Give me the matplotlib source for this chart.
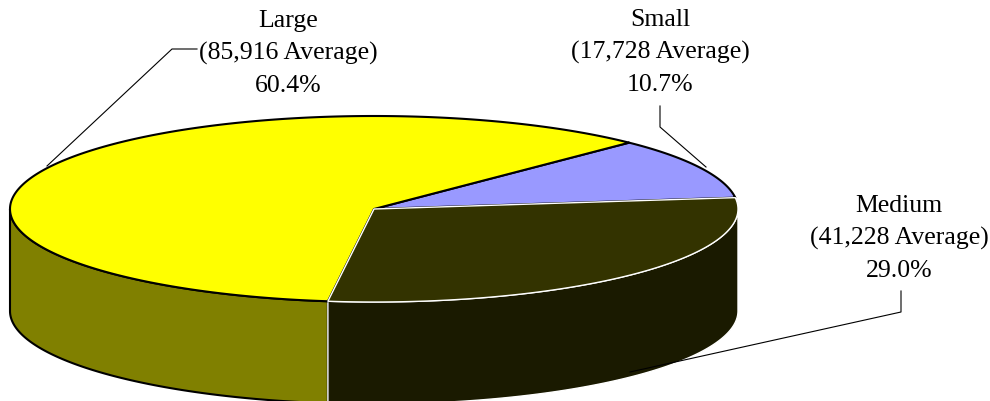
import matplotlib
matplotlib.use("Agg")
import matplotlib.pyplot as plt
from matplotlib.patches import Polygon
import numpy as np

# data (clockwise order starting at the Large/Small boundary)
categories = ['Small', 'Medium', 'Large']
averages = ['17,728', '41,228', '85,916']
percents = [10.7, 29.0, 60.4]

top_colors = ['#9999FF', '#333300', '#FFFF00']
side_colors = ['#7A7ACC', '#1A1A00', '#808000']
edge_colors = ['black', 'white', 'black']
edge_widths = [1.5, 1.0, 1.5]

# pie geometry in pixels
cx, cy = 374, 210
rx, ry = 364, 93
depth = 102
start = 45.5

fig = plt.figure(figsize=(9.9, 4.02), dpi=100)
ax = fig.add_axes([0, 0, 1, 1])
ax.set_xlim(0, 990)
ax.set_ylim(402, 0)
ax.axis('off')


def rim(t, dz=0):
    r = np.radians(t)
    return np.column_stack([cx + rx * np.cos(r), cy - ry * np.sin(r) + dz])


# slice angle ranges, going clockwise
total = sum(percents)
spans = []
a0 = start
for p in percents:
    a1 = a0 - 360 * p / total
    spans.append((a0, a1))
    a0 = a1

# sides first: only the front half (-180..0) is visible
side_order = [2, 1, 0]
for i in side_order:
    a0, a1 = spans[i]
    hi = min(a0, 0)
    lo = max(a1, -180)
    if hi <= lo:
        continue
    t = np.linspace(hi, lo, 200)
    pts = np.vstack([rim(t), rim(t[::-1], depth)])
    ax.add_patch(Polygon(pts, closed=True, fc=side_colors[i],
                         ec=edge_colors[i], lw=edge_widths[i], zorder=2))

# top faces
top_order = [0, 2, 1]
for i in top_order:
    a0, a1 = spans[i]
    t = np.linspace(a0, a1, 300)
    pts = np.vstack([[cx, cy], rim(t)])
    ax.add_patch(Polygon(pts, closed=True, fc=top_colors[i],
                         ec=edge_colors[i], lw=edge_widths[i],
                         joinstyle='round', zorder=3))

# labels
label_x = [660, 899, 288]
label_y = [26, 212, 27]
leaders = [
    [(660, 107), (660, 128), (706, 168)],
    [(901, 292), (901, 313), (630, 373)],
    [(197, 50), (172, 50), (47, 167)],
]
for i, name in enumerate(categories):
    lines = [name, '(%s Average)' % averages[i], '%.1f%%' % percents[i]]
    for k, s in enumerate(lines):
        ax.text(label_x[i], label_y[i] + 32.5 * k, s, ha='center', va='baseline',
                fontsize=18.5, family='Liberation Serif', color='black', zorder=5)
    xs, ys = zip(*leaders[i])
    ax.plot(xs, ys, color='black', lw=0.8, zorder=4)

fig.savefig('out.png', dpi=100)
